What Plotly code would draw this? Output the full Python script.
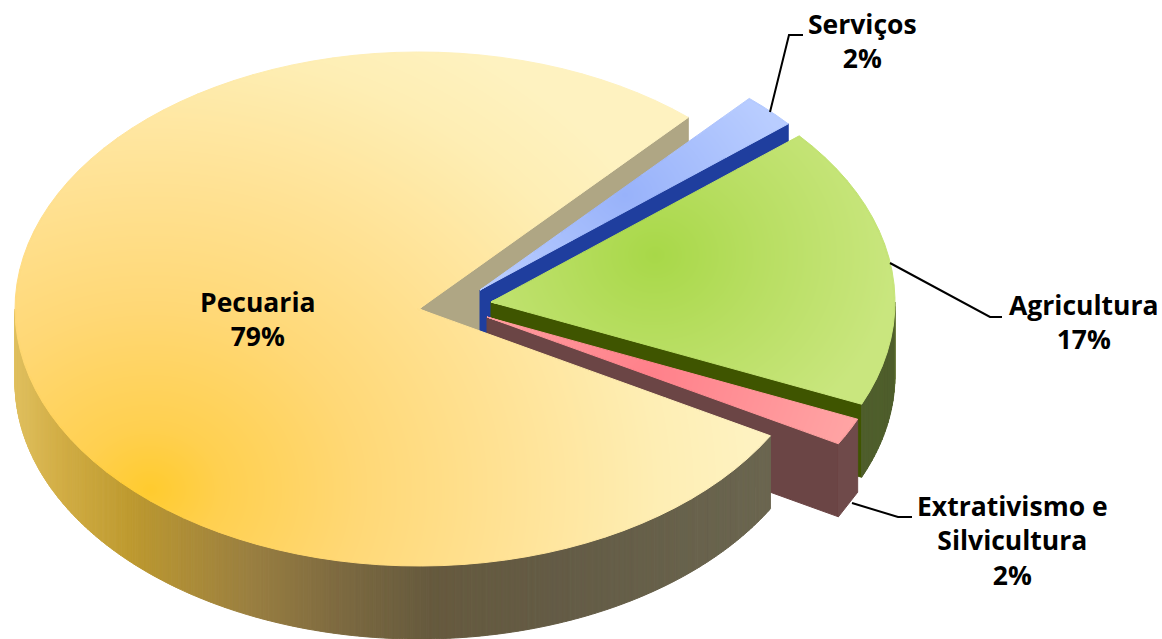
import math
import numpy as np
import plotly.graph_objects as go

# ---------- data ----------
categories = ["Serviços", "Agricultura", "Extrativismo e Silvicultura", "Pecuaria"]
percent_labels = ["2%", "17%", "2%", "79%"]
# slice sizes as read from the drawn ellipse (percent of the turn)
slice_shares = [2.2, 17.7, 1.7, 78.4]

# ---------- layout / style ----------
W, H = 1162, 639
RX, RY, THICK = 404, 257, 73
START = 48.2
centers = [(480, 290), (491, 302), (487, 317), (419, 309)]

def hex2rgb(h):
    return np.array([int(h[i:i + 2], 16) for i in (1, 3, 5)], float)

def ramp(stops):
    ps = [s[0] for s in stops]
    cs = np.array([hex2rgb(s[1]) for s in stops])
    def f(t):
        return [float(np.interp(t, ps, cs[:, k])) for k in range(3)]
    return f

top_style = [
    ((625, 195), 170, [(0, "#98B2FA"), (1, "#B9CDFF")]),
    ((655, 255), 240, [(0, "#A8D848"), (0.45, "#B8DE62"), (1, "#C9E67E")]),
    ((650, 375), 210, [(0, "#FF808A"), (1, "#FFA4A4")]),
    ((150, 490), 600, [(0, "#FFCB2E"), (0.12, "#FFD050"), (0.35, "#FFD876"),
                       (0.6, "#FFE295"), (0.85, "#FEEEB4"), (1, "#FEF2C0")]),
]
cut_colors = ["#1F3E9E", "#3F5500", "#6B4545", "#AFA684"]
side_x_stops = [(15, "#E0C060"), (60, "#D2AE45"), (130, "#BE9A30"), (250, "#9A7F40"),
                (340, "#7D6A40"), (430, "#665A3E"), (560, "#645C46"), (770, "#6B6650")]
side_ramp = ramp(side_x_stops)
green_side = ramp([(0, "#6E8038"), (1, "#4F5E2C")])

buckets = {}
order = []
fig = go.Figure()
layer = [1]

def axes():
    n = layer[0]
    return ("x", "y") if n == 1 else ("x%d" % n, "y%d" % n)

def add(poly, rgb):
    key = tuple(min(255, int(round(c))) for c in rgb)
    if key not in buckets:
        buckets[key] = ([], [])
        order.append(key)
    bx, by = buckets[key]
    bx.extend([p[0] for p in poly] + [poly[0][0], None])
    by.extend([p[1] for p in poly] + [poly[0][1], None])

def flush():
    xa, ya = axes()
    for key in order:
        bx, by = buckets[key]
        c = "rgb(%d,%d,%d)" % key
        fig.add_trace(go.Scatter(x=bx, y=by, mode="lines", fill="toself", fillcolor=c,
                                 line=dict(color=c, width=1), hoverinfo="skip",
                                 showlegend=False, xaxis=xa, yaxis=ya))
    buckets.clear()
    order.clear()

def pt(c, deg, r=1.0):
    a = math.radians(deg)
    return (c[0] + r * RX * math.cos(a), c[1] - r * RY * math.sin(a))

ranges = []
a = START
for s in slice_shares:
    b = a - s * 3.6
    ranges.append((a, b))
    a = b

def top_face(i):
    c = centers[i]
    a0, a1 = ranges[i]
    gc, gr, stops = top_style[i]
    fn = ramp(stops)
    # antialiased base: a fan of cells following the outline
    na = max(3, int(abs(a1 - a0) / 3))
    for j in range(na):
        t0 = a0 + (a1 - a0) * j / na
        t1 = a0 + (a1 - a0) * (j + 1) / na
        nr = 10
        for k in range(nr):
            r0, r1 = k / nr, (k + 1) / nr
            p = [pt(c, t0, r0), pt(c, t0, r1), pt(c, t1, r1), pt(c, t1, r0)]
            mx = sum(q[0] for q in p) / 4
            my = sum(q[1] for q in p) / 4
            d = math.hypot(mx - gc[0], (my - gc[1]) * 1.15) / gr
            add(p, fn(min(d, 1)))
    flush()
    # smooth gradient one overlay up, inset one pixel inside the outline
    layer[0] += 1
    xa, ya = axes()
    xs = np.arange(W) + 0.5
    ys = np.arange(H) + 0.5
    X, Y = np.meshgrid(xs, ys)
    DX, DY = X - c[0], Y - c[1]
    rr = np.hypot(DX / RX, DY / RY)
    ang = np.degrees(np.arctan2(-DY / RY, DX / RX))
    sweep = (a0 - ang) % 360
    mask = (rr <= 1 - 1.3 / RY) & (sweep <= (a0 - a1))
    for deg in (a0, a1):
        ra = math.radians(deg)
        ux, uy = RX * math.cos(ra), -RY * math.sin(ra)
        n = math.hypot(ux, uy)
        ux, uy = ux / n, uy / n
        near = (np.abs(DX * uy - DY * ux) < 1.3) & ((DX * ux + DY * uy) > -1.3)
        mask &= ~near
    Z = np.hypot(X - gc[0], (Y - gc[1]) * 1.15) / gr
    Z = np.clip(Z, 0, 1).astype("float32")
    Z[~mask] = np.nan
    yi, xi = np.where(mask)
    y0, y1, x0, x1 = yi.min(), yi.max() + 1, xi.min(), xi.max() + 1
    scale = [[s[0], s[1]] for s in stops]
    fig.add_trace(go.Heatmap(z=Z[y0:y1, x0:x1], x0=float(x0) + 0.5, dx=1, y0=float(y0) + 0.5, dy=1,
                             zmin=0, zmax=1, colorscale=scale, showscale=False,
                             zsmooth="fast", hoverinfo="skip", xaxis=xa, yaxis=ya))
    layer[0] += 1

def cut_face(i, deg):
    c = centers[i]
    p0 = pt(c, deg, 0)
    p1 = pt(c, deg, 1)
    add([p0, p1, (p1[0], p1[1] + THICK), (p0[0], p0[1] + THICK)], hex2rgb(cut_colors[i]))
    flush()

# back-to-front painting
cut_face(3, ranges[3][1])            # tan cut face of Pecuaria
cut_face(0, ranges[0][1])            # blue cut
top_face(0)

# green slice: cut, outer side, top
cut_face(1, ranges[1][1])
for j in range(24):
    t0 = ranges[1][1] * j / 24
    t1 = ranges[1][1] * (j + 1) / 24
    p0, p1 = pt(centers[1], t0), pt(centers[1], t1)
    add([p0, p1, (p1[0], p1[1] + THICK), (p0[0], p0[1] + THICK)], green_side(min(1, (j + 1) / 6)))
flush()
top_face(1)

# pink slice: cut, outer side, top
cut_face(2, ranges[2][1])
p0, p1 = pt(centers[2], ranges[2][0]), pt(centers[2], ranges[2][1])
add([p0, p1, (p1[0], p1[1] + THICK), (p0[0], p0[1] + THICK)], hex2rgb("#6F4A4A"))
flush()
top_face(2)

# Pecuaria: outer side then top
n_side = 400
end = ranges[3][0]
for j in range(n_side):
    t0 = -180 + (end + 180) * j / n_side
    t1 = -180 + (end + 180) * (j + 1) / n_side
    p0, p1 = pt(centers[3], t0), pt(centers[3], t1)
    mx = (p0[0] + p1[0]) / 2
    add([p0, p1, (p1[0], p1[1] + THICK), (p0[0], p0[1] + THICK)], side_ramp(mx))
flush()
top_face(3)
layer[0] -= 1  # leaders share the last overlay; scatter sits above its heatmap

# leader lines
leaders = [
    [(770, 112), (789, 35), (803, 35)],
    [(890, 263), (990, 317), (1002, 317)],
    [(852, 503), (898, 517), (912, 517)],
]
xa, ya = axes()
for l in leaders:
    fig.add_trace(go.Scatter(x=[p[0] for p in l], y=[p[1] for p in l], mode="lines",
                             line=dict(color="#000000", width=2), hoverinfo="skip",
                             showlegend=False, xaxis=xa, yaxis=ya))

# text
label_text = [
    ("Serviços<br>" + percent_labels[0], 862, 41),
    ("Agricultura<br>" + percent_labels[1], 1083, 322),
    ("Extrativismo e<br>Silvicultura<br>" + percent_labels[2], 1012, 540),
    ("Pecuaria<br>" + percent_labels[3], 257, 319),
]
anns = []
for t, x, y in label_text:
    anns.append(dict(x=x, y=y, xref="x", yref="y", text="<b>%s</b>" % t.replace("<br>", "</b><br><b>"),
                     showarrow=False, xanchor="center", yanchor="middle", align="center",
                     font=dict(family="Open Sans", size=26.5, color="#000000")))

layout_axes = {}
for k in range(1, layer[0] + 1):
    sx = "xaxis" if k == 1 else "xaxis%d" % k
    sy = "yaxis" if k == 1 else "yaxis%d" % k
    dx = dict(range=[0, W], visible=False, fixedrange=True)
    dy = dict(range=[H, 0], visible=False, fixedrange=True)
    if k > 1:
        dx["overlaying"] = "x"
        dy["overlaying"] = "y"
    layout_axes[sx] = dx
    layout_axes[sy] = dy

fig.update_layout(
    width=W, height=H, autosize=False,
    margin=dict(l=0, r=0, t=0, b=0),
    paper_bgcolor="white", plot_bgcolor="white",
    annotations=anns, showlegend=False,
    **layout_axes,
)
fig.write_html("out.html", config=dict(displayModeBar=False),
               post_script="document.body.style.margin='0';document.body.style.overflow='hidden';")
